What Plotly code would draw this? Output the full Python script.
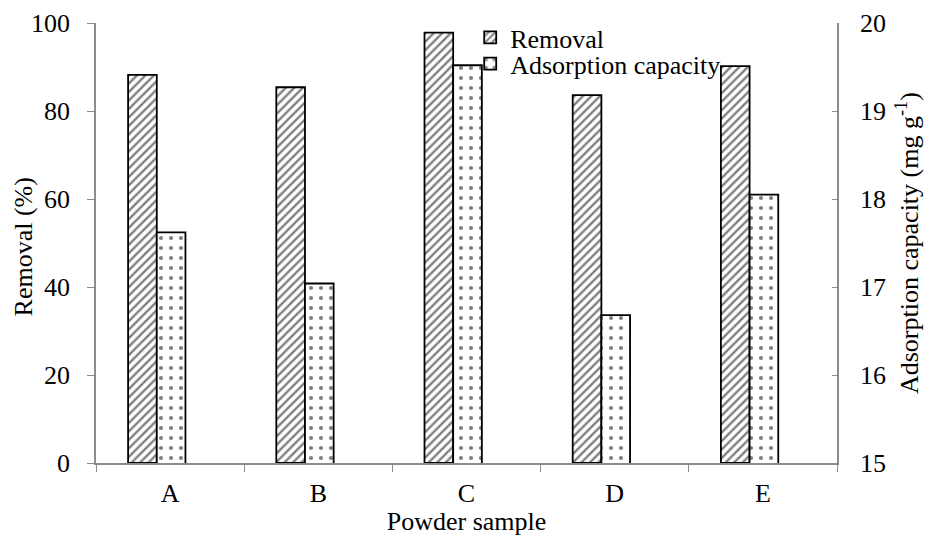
import plotly.graph_objects as go

# Powder samples and measured results
samples = ["A", "B", "C", "D", "E"]
removal_pct = [88.2, 85.4, 97.8, 83.6, 90.2]
adsorption_capacity = [17.62, 17.04, 19.52, 16.68, 18.05]

left_ticks = [0, 20, 40, 60, 80, 100]
right_ticks = [15, 16, 17, 18, 19, 20]

FONT = "Times New Roman"
FS = 26
AXIS_GREY = "#8c8c8c"
BAR_W = 0.1935  # bar width in category units
OFFSET_REMOVAL = -0.2834
OFFSET_ADSORPTION = OFFSET_REMOVAL + BAR_W


def serif(size=FS):
    return dict(family=FONT, size=size, color="black")


fig = go.Figure()

fig.add_trace(go.Bar(
    x=samples, y=removal_pct, name="Removal",
    width=BAR_W, offset=OFFSET_REMOVAL,
    marker=dict(color="white", line=dict(color="black", width=1.8),
                pattern=dict(shape="/", fgcolor="black", bgcolor="white",
                             size=6, solidity=0.4)),
    yaxis="y", legend="legend",
))

fig.add_trace(go.Bar(
    x=samples, y=adsorption_capacity, name="Adsorption capacity",
    width=BAR_W, offset=OFFSET_ADSORPTION,
    marker=dict(color="white", line=dict(color="black", width=1.8),
                pattern=dict(shape=".", fgcolor="black", bgcolor="white",
                             size=10, solidity=0.14)),
    yaxis="y2", legend="legend2",
))

legend_common = dict(xanchor="left", yanchor="top", bgcolor="rgba(0,0,0,0)",
                     font=serif(), itemwidth=30)

# Vertical axis titles, placed beside the tick labels
fig.add_annotation(text="Removal (%)", textangle=-90, showarrow=False,
                   xref="paper", yref="paper", x=-0.0985, y=0.49,
                   xanchor="center", yanchor="middle", font=serif())
fig.add_annotation(text="Adsorption capacity (mg g<sup>-1</sup>)", textangle=-90,
                   showarrow=False, xref="paper", yref="paper", x=1.0945, y=0.5,
                   xanchor="center", yanchor="middle", font=serif())

fig.update_layout(
    width=925, height=536,
    margin=dict(l=96, r=88, t=23, b=73),
    paper_bgcolor="white", plot_bgcolor="white",
    barmode="overlay",
    font=serif(),
    showlegend=True,
    legend=dict(x=0.505, y=1.0205, **legend_common),
    legend2=dict(x=0.505, y=0.961, **legend_common),
    xaxis=dict(
        type="category", tickson="boundaries", automargin=False,
        showline=True, linecolor=AXIS_GREY, linewidth=1.5,
        ticks="outside", ticklen=7, tickcolor=AXIS_GREY,
        showgrid=False, tickfont=serif(), ticklabelstandoff=6,
        title=dict(text="Powder sample", font=serif(), standoff=0),
    ),
    yaxis=dict(
        range=[0, 100], tickvals=left_ticks, automargin=False,
        showline=True, linecolor=AXIS_GREY, linewidth=1.5,
        ticks="outside", ticklen=7, tickcolor=AXIS_GREY,
        showgrid=False, zeroline=False, tickfont=serif(),
        ticklabelstandoff=12,
    ),
    yaxis2=dict(
        range=[15, 20], tickvals=right_ticks, automargin=False,
        overlaying="y", side="right", anchor="x",
        showline=True, linecolor=AXIS_GREY, linewidth=1.5,
        ticks="inside", ticklen=5, tickcolor=AXIS_GREY,
        showgrid=False, zeroline=False, tickfont=serif(),
        ticklabelstandoff=16,
    ),
)

fig.write_html("out.html")
